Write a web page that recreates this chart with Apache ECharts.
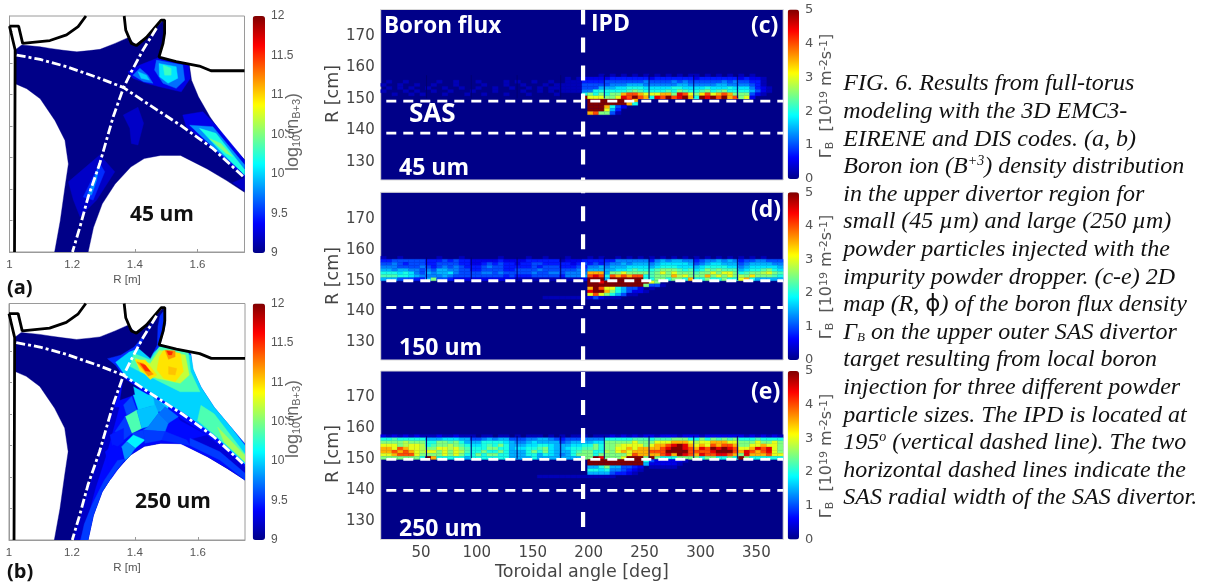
<!DOCTYPE html>
<html><head><meta charset="utf-8">
<style>html,body{margin:0;background:#fff}#c,#cap{position:absolute;left:0;top:0;width:1208px;height:583px}#c{filter:blur(0.6px)}#cap{pointer-events:none}</style>
<script src="https://cdn.jsdelivr.net/npm/echarts@6/dist/echarts.min.js"></script>
</head><body><div id="c"></div><div id="cap"></div>
<script>
// ---------- data ----------
const navy='#000088';
const jetStops=['#000088','#0000ff','#007fff','#00ffff','#7fff7f','#ffff00','#ff7f00','#ff0000','#800000'];
const densityRange=[9,12], fluxRange=[0,5];
const rTicksPol=[1,1.2,1.4,1.6], zTicksPol=[0.7,0.8,0.9,1.0,1.1,1.2,1.3];
const angleTicks=[50,100,150,200,250,300,350], rTicks=[130,140,150,160,170];
const tileGaps=[55,95,136,175,214,254,294,333];
// plasma region outline [R,Z] in metres
const region=[[1.018,1.242],[1.039,1.258],[1.098,1.252],[1.130,1.247],[1.172,1.241],[1.215,1.236],[1.255,1.24],[1.289,1.244],[1.337,1.263],[1.380,1.282],[1.401,1.258],[1.438,1.284],[1.465,1.31],[1.491,1.337],[1.496,1.295],[1.490,1.263],[1.478,1.218],[1.534,1.204],[1.574,1.194],[1.581,1.146],[1.603,1.093],[1.640,1.029],[1.693,.955],[1.75,.893],[1.75,.79],[1.693,.827],[1.631,.864],[1.546,.907],[1.482,.907],[1.430,.897],[1.387,.870],[1.337,.816],[1.296,.753],[1.268,.678],[1.251,.6],[1.144,.6],[1.162,.699],[1.177,.806],[1.188,.88],[1.177,.955],[1.145,1.018],[1.098,1.087],[1.055,1.119],[1.018,1.135]];
// separatrix legs and wall contours
const sepLeg1=[[1.023,1.226],[1.098,1.212],[1.182,1.189],[1.288,1.152],[1.363,1.123],[1.447,1.067],[1.553,.998],[1.649,.929],[1.75,.836]];
const sepLeg2=[[1.469,1.311],[1.426,1.242],[1.389,1.173],[1.363,1.12],[1.331,1.03],[1.288,.881],[1.251,.775],[1.225,.68],[1.201,.6]];
const wallTopLeft=[[1.0,1.318],[1.029,1.318],[1.042,1.263],[1.129,1.272],[1.182,1.29],[1.219,1.316],[1.244,1.35]];
const wallLeft=[[1.0,1.318],[1.018,1.242],[1.016,.6]];
const wallDome=[[1.366,1.35],[1.371,1.305],[1.389,1.263],[1.405,1.256],[1.437,1.282],[1.484,1.337],[1.495,1.337],[1.495,1.295],[1.49,1.263],[1.477,1.219],[1.532,1.205],[1.606,1.191],[1.643,1.176],[1.75,1.176]];
// density patches [log10 n, outline]
const patchesA=[
[9.3,[[1.378,1.173],[1.416,1.194],[1.469,1.215],[1.477,1.219],[1.572,1.194],[1.577,1.152],[1.548,1.109],[1.479,1.125],[1.437,1.136],[1.394,1.152]]],
[9.7,[[1.394,1.162],[1.416,1.184],[1.442,1.162],[1.458,1.136],[1.428,1.141]]],
[9.7,[[1.469,1.21],[1.553,1.194],[1.559,1.146],[1.532,1.12],[1.49,1.136],[1.463,1.178]]],
[10,[[1.410,1.173],[1.437,1.162],[1.447,1.146],[1.420,1.152]]],
[10.05,[[1.477,1.199],[1.532,1.189],[1.537,1.152],[1.506,1.136],[1.479,1.157]]],
[10.3,[[1.49,1.194],[1.516,1.184],[1.516,1.162],[1.495,1.162]]],
[9.3,[[1.553,1.035],[1.617,1.046],[1.659,1.003],[1.75,.893],[1.75,.836],[1.649,.929],[1.564,.998]]],
[9.8,[[1.575,1.003],[1.649,.998],[1.75,.877],[1.75,.85],[1.659,.924]]],
[10.2,[[1.606,.993],[1.659,.977],[1.75,.862],[1.75,.845],[1.67,.924]]],
[10.5,[[1.638,.961],[1.675,.945],[1.712,.903],[1.691,.914]]],
[9.2,[[1.712,.82],[1.75,.836],[1.75,.795]]],
[9.2,[[1.363,1.035],[1.410,1.06],[1.428,1.009],[1.410,.94],[1.389,.945],[1.384,.993]]],
[9.2,[[1.188,.823],[1.288,.908],[1.336,.855],[1.278,.765],[1.225,.712],[1.204,.765]]],
[9.5,[[1.235,.775],[1.288,.881],[1.304,.855],[1.267,.765]]],
[9.8,[[1.251,.786],[1.283,.866],[1.278,.828],[1.262,.781]]]];
const patchesB=[
[9.5,[[1.313,1.175],[1.355,1.186],[1.398,1.212],[1.429,1.25],[1.472,1.302],[1.498,1.334],[1.498,1.286],[1.48,1.218],[1.535,1.204],[1.578,1.191],[1.583,1.143],[1.61,1.085],[1.652,1.021],[1.705,.958],[1.75,.905],[1.75,.836],[1.652,.926],[1.557,.995],[1.45,1.064],[1.366,1.117],[1.339,1.154]]],
[10,[[1.339,1.164],[1.382,1.196],[1.413,1.207],[1.45,1.186],[1.48,1.212],[1.535,1.202],[1.578,1.186],[1.586,1.14],[1.61,1.085],[1.652,1.021],[1.705,.958],[1.75,.9],[1.75,.841],[1.652,.931],[1.557,1.0],[1.45,1.069],[1.371,1.119]]],
[9,[[1.48,1.319],[1.427,1.234],[1.412,1.208],[1.449,1.176],[1.47,1.218],[1.472,1.276]]],
[10.35,[[1.396,1.192],[1.449,1.171],[1.478,1.213],[1.57,1.194],[1.577,1.134],[1.607,1.07],[1.544,1.07],[1.47,1.107],[1.385,1.15]]],
[10.35,[[1.61,1.027],[1.652,1.0],[1.75,.873],[1.75,.847],[1.663,.926],[1.599,.979]]],
[10.7,[[1.401,1.176],[1.449,1.16],[1.478,1.202],[1.56,1.187],[1.573,1.123],[1.544,1.097],[1.47,1.113],[1.417,1.134]]],
[10.6,[[1.663,.958],[1.75,.868],[1.75,.847],[1.684,.91]]],
[10.95,[[1.478,1.181],[1.491,1.202],[1.544,1.192],[1.554,1.134],[1.528,1.102],[1.491,1.113],[1.47,1.139]]],
[10.95,[[1.401,1.171],[1.433,1.171],[1.47,1.123],[1.449,1.109],[1.415,1.144]]],
[11.2,[[1.406,1.165],[1.427,1.16],[1.459,1.126],[1.443,1.12]]],
[11.2,[[1.496,1.202],[1.528,1.2],[1.528,1.181],[1.507,1.173]]],
[11.05,[[1.507,1.15],[1.533,1.144],[1.528,1.123],[1.507,1.126]]],
[11.5,[[1.417,1.16],[1.433,1.155],[1.449,1.134],[1.433,1.137]]],
[11.5,[[1.501,1.2],[1.52,1.197],[1.517,1.187],[1.507,1.187]]],
[9.4,[[1.366,1.117],[1.45,1.064],[1.557,1.0],[1.652,.931],[1.75,.836],[1.75,.79],[1.694,.827],[1.631,.864],[1.546,.905],[1.482,.907],[1.43,.897],[1.387,.87],[1.337,.816],[1.296,.753],[1.268,.678],[1.251,.6],[1.201,.6],[1.228,.672],[1.254,.766],[1.292,.873],[1.334,1.021]]],
[9,[[1.364,1.113],[1.412,1.081],[1.396,1.06],[1.353,1.044]]],
[10,[[1.396,1.086],[1.507,1.023],[1.496,.996],[1.427,1.044],[1.401,1.06]]],
[9.2,[[1.334,1.021],[1.292,.873],[1.254,.766],[1.228,.672],[1.201,.6],[1.225,.6],[1.25,.672],[1.275,.766],[1.31,.873],[1.35,1.02]]],
[9.25,[[1.538,.991],[1.628,.933],[1.75,.833],[1.75,.812],[1.67,.88],[1.575,.923]]],
[9.4,[[1.506,.97],[1.538,.981],[1.628,.933],[1.565,.917],[1.496,.944]]],
[9.5,[[1.496,.944],[1.565,.917],[1.575,.9],[1.485,.917]]],
[9.55,[[1.575,.9],[1.67,.854],[1.75,.79],[1.75,.812],[1.67,.88],[1.575,.923]]],
[9.6,[[1.364,1.028],[1.39,1.055],[1.406,1.012],[1.374,.997]]],
[10,[[1.395,1.06],[1.459,1.06],[1.464,1.028],[1.411,1.012]]],
[9.85,[[1.459,1.055],[1.496,1.023],[1.469,1.002],[1.464,1.028]]],
[9.7,[[1.496,1.023],[1.538,.991],[1.506,.97],[1.475,1.002]]],
[10.35,[[1.369,.991],[1.406,1.012],[1.422,.954],[1.39,.938]]],
[9.95,[[1.406,1.012],[1.464,1.028],[1.475,1.002],[1.443,.96],[1.422,.954]]],
[9.75,[[1.475,1.002],[1.506,.97],[1.496,.944],[1.427,.949],[1.443,.96]]],
[9.55,[[1.337,.944],[1.369,.991],[1.39,.938],[1.364,.917]]],
[9.55,[[1.39,.938],[1.427,.949],[1.432,.917],[1.395,.933]]],
[10.1,[[1.395,.933],[1.432,.917],[1.401,.891],[1.374,.912]]],
[9.55,[[1.427,.949],[1.496,.944],[1.485,.917],[1.432,.907]]],
[9.8,[[1.358,.896],[1.374,.912],[1.401,.891],[1.385,.868],[1.369,.852]]],
[9.45,[[1.321,.933],[1.364,.954],[1.364,.912],[1.332,.886]]],
[9.4,[[1.306,.88],[1.332,.901],[1.358,.891],[1.364,.849],[1.325,.795]]],
[9.55,[[1.251,.6],[1.268,.678],[1.296,.753],[1.337,.816],[1.371,.857],[1.345,.852],[1.302,.788],[1.265,.714],[1.239,.65],[1.228,.6]]]];
// boron flux rows: R=157 (top) down to R=144, nine 40 deg tiles of 8 cells, each symbol = n*0.25 (base 36)
const fluxRowsC=[
"00000000 00000000 00000000 00000000 00000001 01010101 01010101 10101010 10100000",
"00000000 00000000 00000000 00000000 01012222 23333333 23333333 23333333 23221000",
"01001000 00100100 01000010 10010010 01113333 44444445 44445454 44444545 44331000",
"10010010 01000100 00100010 01000101 11114444 45556665 55555665 55556655 55431000",
"01010100 10010010 01001001 00101011 11114446 66778887 77778877 77877787 77532100",
"10001010 01001000 10001000 01001010 11115588 88889a98 88898a98 89a89a88 88642100",
"00100101 00010001 00100010 00100001 00008a8a 8aaeggec cceeaigc adgcegea aa421000",
"00000000 00000000 00000000 00000000 0000kccc aacigkge 8igkgike 8kikgkeg ac200000",
"00000000 00000000 00000000 00000000 00000kkk kkkkie00 00000000 00000000 00000000",
"00000000 00000000 00000000 00000000 00000kkk kkkke800 00000000 00000000 00000000",
"00000000 00000000 00000000 00000000 00000kkk e8420000 00000000 00000000 00000000",
"00000000 00000000 00000000 00000000 00000kkk c6300000 00000000 00000000 00000000",
"00000000 00000000 00000000 00000000 00000ega a4100000 00000000 00000000 00000000",
"00000000 00000000 00000000 00000000 00000000 00000000 00000000 00000000 00000000"];
const fluxRowsD=[
"10010000 00100010 00000100 00100100 01000101 00101010 10101010 10101010 10101000",
"33444444 33343433 22222322 22333333 12223333 33555555 35656655 34556565 34455444",
"44543444 33444433 22343433 23344333 33234343 45565666 56777776 45677666 45666655",
"55544445 43454543 33454433 33343444 33343556 56667777 67888777 67888877 56777776",
"66566554 54665544 33444433 44445444 44454666 66778988 89aaa989 78a9a999 67889a87",
"88878754 65667544 44554544 44454455 45555eee 6aacaaaa 9acacaaa 9aacacca 89aabca9",
"99988765 55565444 44444434 33344444 35556gig 8gegegg8 9aaaebca aaeacaca badaaa98",
"66644433 6a443222 22222222 11111111 11112kkk 6kkkkkk8 8aa8aa8e 88a88a88 ce866666",
"00000000 00000000 00000000 00000000 00000kki kkkkkkkk ca000000 00000000 00000000",
"00000000 00000000 00000000 00000000 00000kkk kkkkkkka 44100000 00000000 00000000",
"00000000 00000000 00000000 00000000 00000ekg cc864420 10000000 00000000 00000000",
"00000000 00000000 00000000 00000000 00000ikk ea864221 00000000 00000000 00000000",
"00000000 00000000 00000000 00000000 00000cgc a8641100 00000000 00000000 00000000",
"00000000 00000000 00000000 00000111 11111242 11100000 00000000 00000000 00000000"];
const fluxRowsE=[
"21212121 11211211 10110110 10111010 10111011 12121212 21222122 21222222 21212121",
"88988888 66677766 44565664 44556654 34445555 88888999 8999aaa8 8a8a9a9a 88898888",
"aaaabaaa 88aa9a86 66888876 55676666 45666677 aaaaacaa accceeec bcceeecc aaacaaca",
"cccabccb 89aaba98 77898a86 66778876 667788a8 aabcccca ceegikie cecgegge aaccecca",
"eecgeccb aaccbca9 888aa886 77889a76 678899a8 aaccecee eegikkig eigkikig cceigica",
"eegegecb ccacacb9 88a88a86 668a8a76 6689aa88 baceceee gggkkkkg gggikkkg eigegica",
"ccegggca aaacaca8 8a8aa886 66886876 568aaa8a aaaacgee eegiekig eiggiige aieeegcc",
"aaaaaaa8 ke888886 88888886 66686666 6666aaki aaackkka ka888aaa a8aa88a8 ka888888",
"00000000 00000000 00000000 00000000 00000kkk kkkkkkk8 42222210 00000000 00000000",
"00000000 00000000 00000000 00000000 00000kkk kkkkkkk6 22222100 00000000 00000000",
"00000000 00000000 00000000 00000000 00000668 a6644320 11111000 00000000 00000000",
"00000000 00000000 00000000 00000000 00000887 85543210 00000000 00000000 00000000",
"00000000 00000000 00000000 00000000 00000666 64332100 00000000 00000000 00000000",
"00000000 00000000 00000000 00001111 11111111 11000000 00000000 00000000 00000000"];
const captionLines=[
"FIG. 6. Results from full-torus",
"modeling with the 3D EMC3-",
"EIRENE and DIS codes. (a, b)",
"Boron ion (B{sup|+3}) density distribution",
"in the upper divertor region for",
"small (45 µm) and large (250 µm)",
"powder particles injected with the",
"impurity powder dropper. (c-e) 2D",
"map (R, {phi|ϕ}) of the boron flux density",
"Γ{sub|B} on the upper outer SAS divertor",
"target resulting from local boron",
"injection for three different powder",
"particle sizes. The IPD is located at",
"195{sup|o} (vertical dashed line). The two",
"horizontal dashed lines indicate the",
"SAS radial width of the SAS divertor."];

// ---------- layout ----------
const polBoxes=[{left:9.5,top:16,width:235,height:236},{left:9,top:303.5,width:236,height:236.5}];
const fluxBoxes=[
 {left:380.7,top:9.5,width:402.5,height:170.5,yMin:124.2,yMax:178.5,sep:[149.3,139.1],ipd:[178.5,124.2],off:0},
 {left:380.7,top:192.3,width:402.5,height:167.7,yMin:124.2,yMax:178.8,sep:[150,141.3],ipd:[178.8,124.2],off:14},
 {left:380.7,top:371,width:402.5,height:168.5,yMin:124.2,yMax:178.5,sep:[150,140],ipd:[178.2,127.9],off:0}];
const polBars=[{left:252.7,top:16,height:237},{left:252.7,top:303.5,height:236.5}];
const fluxBars=[{left:787.7,top:9.5,height:169.5},{left:787.7,top:192.3,height:167.7},{left:787.7,top:371,height:168.5}];
const grey='#555';

// ---------- options ----------
const grids=[],xAxes=[],yAxes=[],series=[],visualMaps=[];
function polyRender(list){return function(p,api){
  const pts=list[api.value(1)].map(a=>api.coord(a));
  const c=api.visual('color');
  return {type:'polygon',shape:{points:pts},style:{fill:c,stroke:c,lineWidth:.4}};
};}
function cellRender(p,api){
  const a=api.coord([api.value(0),api.value(1)+1]),b=api.coord([api.value(0)+5,api.value(1)]);
  const c=api.visual('color');
  return {type:'rect',shape:{x:a[0],y:a[1],width:b[0]-a[0],height:b[1]-a[1]},style:{fill:c,stroke:c,lineWidth:.3}};
}
function lineS(g,pts,color,width,dash,z,off){
  series.push({type:'line',xAxisIndex:g,yAxisIndex:g,data:pts,symbol:'none',silent:true,z:z,animation:false,
    lineStyle:{color:color,width:width,type:dash||'solid',dashOffset:off||0,cap:'butt'}});
}
[patchesA,patchesB].forEach((patches,i)=>{
  const b=polBoxes[i];
  grids.push({left:b.left,top:b.top,width:b.width,height:b.height,show:true,borderColor:'#9a9a9a',borderWidth:1,backgroundColor:'#fff'});
  xAxes.push({type:'value',gridIndex:i,min:1,max:1.75,splitLine:{show:false},
    axisLine:{lineStyle:{color:'#9a9a9a'}},axisTick:{inside:true,length:3,customValues:rTicksPol,lineStyle:{color:'#9a9a9a'}},
    axisLabel:{customValues:rTicksPol,color:grey,fontFamily:'Liberation Sans',fontSize:11.5,margin:7},
    name:'R [m]',nameLocation:'middle',nameGap:22,nameTextStyle:{color:grey,fontFamily:'Liberation Sans',fontSize:11.5}});
  yAxes.push({type:'value',gridIndex:i,min:.6,max:1.35,splitLine:{show:false},
    axisLine:{lineStyle:{color:'#9a9a9a'}},axisTick:{inside:true,length:3,customValues:zTicksPol,lineStyle:{color:'#9a9a9a'}},axisLabel:{show:false}});
  const list=[region].concat(patches.map(p=>p[1]));
  const vals=[9].concat(patches.map(p=>p[0]));
  visualMaps.push({type:'continuous',seriesIndex:series.length,dimension:0,min:densityRange[0],max:densityRange[1],
    inRange:{color:jetStops},itemWidth:12.3,itemHeight:polBars[i].height,left:polBars[i].left,top:polBars[i].top,
    padding:0,calculable:false,text:null,showLabel:false});
  series.push({type:'custom',xAxisIndex:i,yAxisIndex:i,silent:true,animation:false,z:2,clip:true,
    renderItem:polyRender(list),data:vals.map((v,k)=>[v,k])});
  lineS(i,wallTopLeft,'#000',2.8,null,4);
  lineS(i,wallLeft,'#000',2.8,null,4);
  lineS(i,wallDome,'#000',2.8,null,4);
  lineS(i,sepLeg1,'#fff',2.8,[9,3,3,3],5);
  lineS(i,sepLeg2,'#fff',2.8,[9,3,3,3],5);
});
[fluxRowsC,fluxRowsD,fluxRowsE].forEach((rows,k)=>{
  const i=k+2,b=fluxBoxes[k],last=k===2;
  grids.push({left:b.left,top:b.top,width:b.width,height:b.height,show:true,borderColor:'#d8d8d8',borderWidth:1,backgroundColor:navy});
  xAxes.push({type:'value',gridIndex:i,min:14,max:374,splitLine:{show:false},axisLine:{show:false},
    axisTick:{show:false},
    axisLabel:{show:last,customValues:angleTicks,color:'#444',fontFamily:'DejaVu Sans',fontSize:15,margin:6},
    name:last?'Toroidal angle [deg]':'',nameLocation:'middle',nameGap:24,nameTextStyle:{color:'#444',fontFamily:'DejaVu Sans',fontSize:17.5}});
  yAxes.push({type:'value',gridIndex:i,min:b.yMin,max:b.yMax,splitLine:{show:false},axisLine:{show:false},axisTick:{show:false},
    axisLabel:{customValues:rTicks,color:'#444',fontFamily:'DejaVu Sans',fontSize:15,margin:6}});
  const cells=[];
  rows.forEach((row,ri)=>{
    row.replace(/ /g,'').split('').forEach((ch,ci)=>{
      const v=parseInt(ch,36)*0.25;
      if(v>0)cells.push([14+ci*5,157-ri,v]);
    });
  });
  visualMaps.push({type:'continuous',seriesIndex:series.length,dimension:2,min:fluxRange[0],max:fluxRange[1],
    inRange:{color:jetStops},itemWidth:11.3,itemHeight:fluxBars[k].height,left:fluxBars[k].left,top:fluxBars[k].top,
    padding:0,calculable:false,text:null,showLabel:false});
  series.push({type:'custom',xAxisIndex:i,yAxisIndex:i,silent:true,animation:false,z:2,renderItem:cellRender,data:cells});
  tileGaps.forEach(g=>lineS(i,[[g,157.6],[g,150.2]],'#000070',1,null,3));
  b.sep.forEach(r=>lineS(i,[[19,r],[374,r]],'#fff',2.8,[10,7],5));
  lineS(i,[[195,b.ipd[0]],[195,b.ipd[1]]],'#fff',4.2,[15,13],6,b.off);
});
// colour-bar tick axes
function barAxis(box,min,max,step,w,family,size){
  const i=grids.length;
  grids.push({left:box.left,top:box.top,width:w,height:box.height});
  xAxes.push({type:'value',gridIndex:i,min:0,max:1,show:false});
  yAxes.push({type:'value',gridIndex:i,min:min,max:max,interval:step,position:'right',splitLine:{show:false},axisLine:{show:false},axisTick:{show:false},
    axisLabel:{color:grey,fontFamily:family,fontSize:size,margin:6,hideOverlap:false}});
}
polBars.forEach(b=>barAxis(b,densityRange[0],densityRange[1],.5,12.3,'Liberation Sans',12));
fluxBars.forEach(b=>barAxis(b,fluxRange[0],fluxRange[1],1,11.3,'DejaVu Sans',13));

const gfx=[];
function txt(target,s,x,y,font,fill,extra){
  target.push(Object.assign({type:'text',x:x,y:y,z:50,silent:true,style:Object.assign({text:s,font:font,fill:fill,textAlign:'left',textVerticalAlign:'middle'},(extra&&extra.style)||{})},extra&&extra.rot?{rotation:extra.rot}:{}));
}
const bold='700 23px "Open Sans"';
txt(gfx,'Boron flux',384,27,'700 22.5px "Open Sans"','#fff');
txt(gfx,'IPD',591,24,bold,'#fff');
txt(gfx,'SAS',409,115,'700 26px "Open Sans"','#fff');
txt(gfx,'45 um',399,168,bold,'#fff');
txt(gfx,'150 um',399,348,bold,'#fff');
txt(gfx,'250 um',399,529,bold,'#fff');
txt(gfx,'(c)',751,26,bold,'#fff');
txt(gfx,'(d)',751,210,bold,'#fff');
txt(gfx,'(e)',751,392,bold,'#fff');
txt(gfx,'45 um',130,215,'700 21px "Open Sans"','#111');
txt(gfx,'250 um',135,502,'700 21px "Open Sans"','#111');
txt(gfx,'(a)',7,288,'700 20px "Open Sans"','#111');
txt(gfx,'(b)',7,572,'700 20px "Open Sans"','#111');
const tCenter={textAlign:'center',textVerticalAlign:'middle'};
[94,276,454].forEach(y=>txt(gfx,'R [cm]',333,y,'17.5px "DejaVu Sans"','#444',{rot:Math.PI/2,style:tCenter}));
[96,277,456].forEach(y=>{
  txt(gfx,'Γ{sub|B}  [10{sup|19} m{sup|-2}s{sup|-1}]',827,y,'16px "DejaVu Sans"','#555',{rot:Math.PI/2,style:Object.assign({rich:{
    sub:{font:'11px "DejaVu Sans"',fill:'#555',verticalAlign:'bottom',padding:[6,0,0,0]},
    sup:{font:'11px "DejaVu Sans"',fill:'#555',verticalAlign:'top',padding:[0,0,6,0]}}},tCenter)});
});
[132,419].forEach(y=>{
  txt(gfx,'log{sub|10}(n{sub|B+3})',293,y,'18px "Liberation Sans"','#666',{rot:Math.PI/2,style:Object.assign({rich:{
    sub:{font:'11px "Liberation Sans"',fill:'#666',verticalAlign:'bottom',padding:[7,0,0,0]}}},tCenter)});
});
const capGfx=[];
const capFont='italic 24px "Liberation Serif"';
captionLines.forEach((s,i)=>{
  txt(capGfx,s,843.3,84+27.6*i,capFont,'#111',{style:{rich:{
    sup:{font:'italic 14px "Liberation Serif"',fill:'#111',verticalAlign:'top',padding:[0,0,6,0]},
    sub:{font:'italic 13px "Liberation Serif"',fill:'#111',verticalAlign:'bottom',padding:[6,0,0,0]},
    phi:{font:'23px "DejaVu Sans"',fill:'#111'}}}});
});

const chart=echarts.init(document.getElementById('c'));
chart.setOption({animation:false,backgroundColor:'#fff',grid:grids,xAxis:xAxes,yAxis:yAxes,visualMap:visualMaps,series:series,graphic:gfx});
const capChart=echarts.init(document.getElementById('cap'));
capChart.setOption({animation:false,graphic:capGfx});
</script></body></html>
